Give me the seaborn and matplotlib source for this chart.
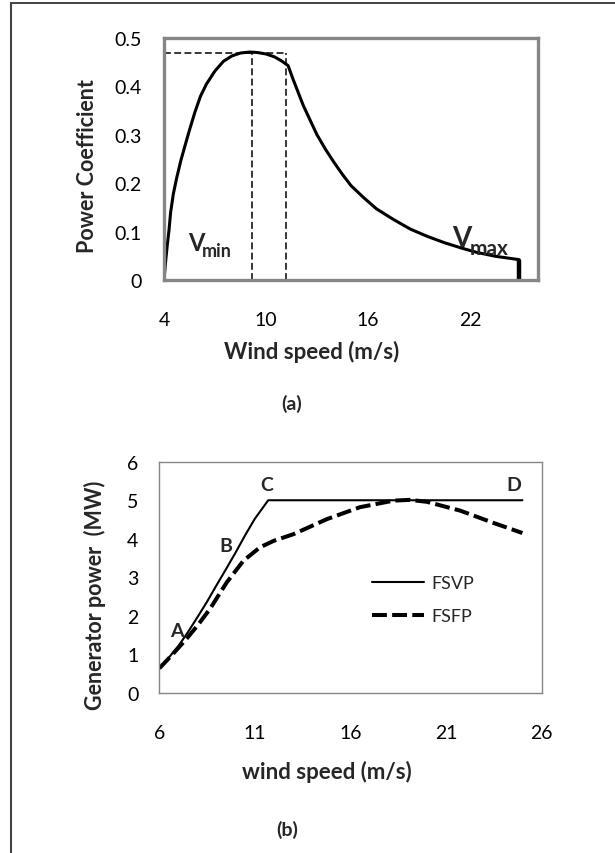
import numpy as np
import pandas as pd
import matplotlib
matplotlib.use("Agg")
import matplotlib.pyplot as plt
from matplotlib.lines import Line2D
import seaborn as sns

# (a) power coefficient vs wind speed
cp_speed = [4.0, 4.1, 4.19, 4.3, 4.39, 4.55, 4.74, 5.0, 5.24, 5.5, 5.82, 6.15, 6.5, 7.0, 7.5, 8.0,
            8.5, 9.06, 9.5, 10.0, 10.5, 10.9, 11.3,
            11.6, 11.9, 12.2, 12.6, 13.0, 13.5, 14.0, 14.5, 15.0, 15.75, 16.5, 17.5, 18.5, 19.5,
            20.5, 21.5, 22.4, 23.5, 24.9]
cp_value = [0.0, 0.04, 0.071, 0.105, 0.14, 0.178, 0.21, 0.248, 0.278, 0.31, 0.347, 0.38, 0.405,
            0.432, 0.452, 0.463, 0.469, 0.471, 0.47, 0.467, 0.461, 0.453, 0.443,
            0.414, 0.387, 0.36, 0.33, 0.30, 0.27, 0.243, 0.218, 0.195, 0.17, 0.147, 0.125, 0.105,
            0.09, 0.077, 0.066, 0.057, 0.049, 0.042]
cp_peak = 0.47
v_peak = 9.2
v_rated = 11.2
v_cutout = 24.9

# (b) generator power vs wind speed
fsvp_speed = [6, 6.5, 7, 7.5, 8, 8.5, 9, 9.5, 10, 10.5, 11, 11.7, 25]
fsvp_power = [0.64, 0.92, 1.22, 1.58, 1.97, 2.37, 2.8, 3.22, 3.65, 4.1, 4.52, 5.0, 5.0]
fsfp_speed = [6, 6.5, 7, 7.5, 8, 8.65, 9.53, 10.4, 11.27, 12.0, 13.02, 14.77, 16.5, 18.26, 19.1, 20.0,
              21.75, 23.5, 25]
fsfp_power = [0.64, 0.9, 1.17, 1.45, 1.75, 2.18, 2.87, 3.43, 3.78, 3.95, 4.12, 4.51, 4.82, 4.99, 5.01,
              4.96, 4.73, 4.41, 4.15]

sns.set_theme(style="white")
plt.rcParams['font.family'] = ['Lato', 'DejaVu Sans']

W, H = 615, 854
fig = plt.figure(figsize=(W / 100, H / 100), dpi=100)

def box(l, t, r, b):
    return [l / W, 1 - b / H, (r - l) / W, (b - t) / H]

# ---------- panel (a) ----------
ax1 = fig.add_axes(box(164, 39, 538, 281))
cp_df = pd.DataFrame({"speed": cp_speed, "cp": cp_value})
sns.lineplot(data=cp_df, x="speed", y="cp", ax=ax1, color="black", lw=2.2, sort=False)
ax1.plot([v_cutout, v_cutout], [cp_value[-1], 0], color="black", lw=3.2, solid_capstyle="butt")
dash = (0, (4.5, 2.2))
ax1.plot([4, v_rated], [cp_peak, cp_peak], color="black", lw=1.1, ls=dash)
ax1.plot([v_peak, v_peak], [0, cp_peak], color="black", lw=1.1, ls=dash)
ax1.plot([v_rated, v_rated], [0, cp_peak], color="black", lw=1.1, ls=dash)
ax1.set_xlim(4, 26)
ax1.set_ylim(0, 0.5)
ax1.set_xticks([4, 10, 16, 22])
ax1.set_yticks([0, 0.1, 0.2, 0.3, 0.4, 0.5])
ax1.set_yticklabels(["0", "0.1", "0.2", "0.3", "0.4", "0.5"])
for s in ax1.spines.values():
    s.set_color("#868686")
    s.set_linewidth(2.4)
ax1.tick_params(axis="both", direction="out", length=5, width=1.2, color="#868686",
                labelsize=14, labelcolor="black")
ax1.tick_params(axis="x", pad=17)
ax1.tick_params(axis="y", pad=11)
ax1.set_xlabel("")
ax1.set_ylabel("")
ax1.text(5.4, 0.062, "V", fontsize=17, fontweight="bold")
ax1.text(6.2, 0.05, "min", fontsize=13, fontweight="bold")
ax1.text(20.95, 0.07, "V", fontsize=20, fontweight="bold")
ax1.text(22.0, 0.054, "max", fontsize=15, fontweight="bold")

fig.text(312 / W, 1 - 352 / H, "Wind speed (m/s)", ha="center", va="center", fontsize=16, fontweight="bold")
fig.text(88 / W, 1 - 166 / H, "Power Coefficient", ha="center", va="center", rotation=90,
         fontsize=15.5, fontweight="bold")
fig.text(292 / W, 1 - 404 / H, "(a)", ha="center", va="center", fontsize=14, fontweight="bold")

# ---------- panel (b) ----------
ax2 = fig.add_axes(box(159.3, 462.7, 541.5, 694))
fsvp_df = pd.DataFrame({"speed": fsvp_speed, "power": fsvp_power})
fsfp_df = pd.DataFrame({"speed": fsfp_speed, "power": fsfp_power})
sns.lineplot(data=fsvp_df, x="speed", y="power", ax=ax2, color="black", lw=1.5, label="FSVP")
sns.lineplot(data=fsfp_df, x="speed", y="power", ax=ax2, color="black", lw=2.9,
             ls=(0, (3.7, 1.3)), label="FSFP")
ax2.set_xlim(6, 26)
ax2.set_ylim(0, 6)
ax2.set_xticks([6, 11, 16, 21, 26])
ax2.set_yticks(range(0, 7))
for s in ax2.spines.values():
    s.set_color("#868686")
    s.set_linewidth(1.0)
ax2.tick_params(axis="both", direction="out", length=5, width=1.0, color="#868686",
                labelsize=14, labelcolor="black")
ax2.tick_params(axis="x", pad=17)
ax2.tick_params(axis="y", pad=10)
ax2.set_xlabel("")
ax2.set_ylabel("")
ax2.legend(loc="center left", bbox_to_anchor=(0.556, 0.403), frameon=False, fontsize=13,
           handlelength=2.9, handletextpad=0.4, labelspacing=0.95, borderpad=0, borderaxespad=0)
for lbl, xx, yy in [("A", 6.9, 1.62), ("B", 9.5, 3.82), ("C", 11.6, 5.42), ("D", 24.55, 5.42)]:
    ax2.text(xx, yy, lbl, ha="center", va="center", fontsize=14, fontweight="bold")

fig.text(327 / W, 1 - 772 / H, "wind speed (m/s)", ha="center", va="center", fontsize=16, fontweight="bold")
fig.text(95 / W, 1 - 595 / H, "Generator power  (MW)", ha="center", va="center", rotation=90,
         fontsize=15.5, fontweight="bold")
fig.text(287 / W, 1 - 830 / H, "(b)", ha="center", va="center", fontsize=14, fontweight="bold")

# outer frame (top and left edges only)
fig.add_artist(Line2D([11 / W, 1], [1 - 4 / H, 1 - 4 / H], transform=fig.transFigure, color="#222222", lw=1.2))
fig.add_artist(Line2D([11 / W, 11 / W], [1 - 4 / H, 0], transform=fig.transFigure, color="#444444", lw=1.5))

fig.savefig("out.png", dpi=100)
